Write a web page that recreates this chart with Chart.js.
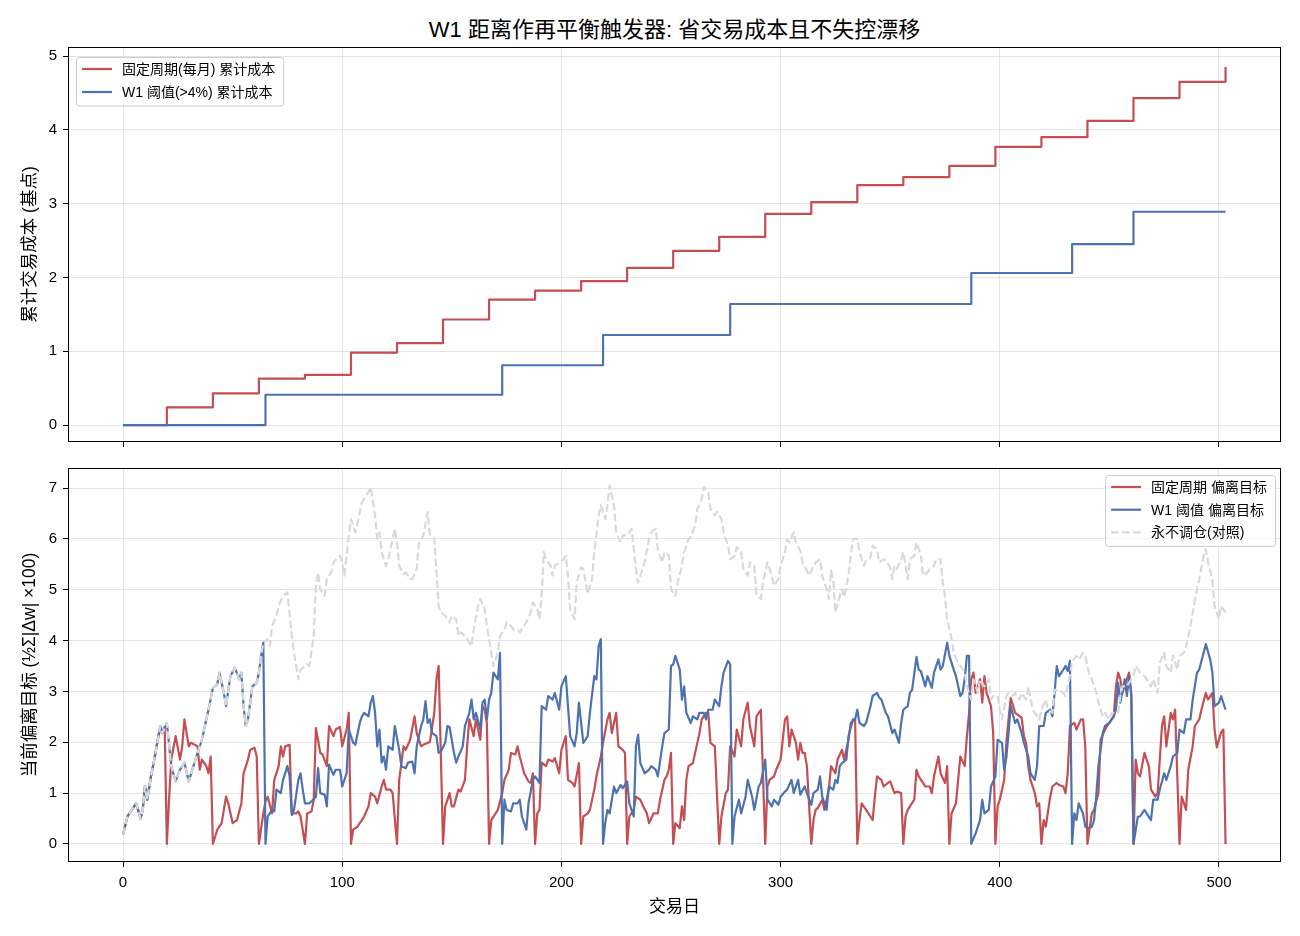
<!DOCTYPE html>
<html>
<head>
<meta charset="utf-8">
<script src="https://cdn.jsdelivr.net/npm/chart.js@4.4.1/dist/chart.umd.min.js"></script>
<style>
  body { margin: 0; background: #fff; }
  #wrap { position: relative; width: 1300px; height: 936px; background: #fff; }
  #title { position: absolute; left: 0; top: 16px; width: 1349px; text-align: center;
           font: 22px 'Liberation Sans', 'Noto Sans CJK SC', sans-serif; line-height: 27px; color: #000; }
  canvas { position: absolute; left: 0; }
</style>
</head>
<body>
<div id="wrap">
  <div id="title">W1 距离作再平衡触发器: 省交易成本且不失控漂移</div>
  <canvas id="costChart" width="1300" height="460" style="top:0"></canvas>
  <canvas id="driftChart" width="1300" height="483" style="top:453px"></canvas>
</div>
<script>
var FONT = "'Liberation Sans', 'Noto Sans CJK SC', sans-serif";
var RED = '#c44e52', BLUE = '#4c72b0', GRAY = '#d9d9d9', GRID = '#dedede';

// tick labels
var dayTicks = [0, 100, 200, 300, 400, 500];
var costTicks = [0, 1, 2, 3, 4, 5];
var driftTicks = [0, 1, 2, 3, 4, 5, 6, 7];

// cumulative cost (bp): [day, value] at each rebalance
var fixedCost = [[0,0],[20,0.24],[41,0.43],[62,0.63],[83,0.68],[104,0.98],[125,1.11],[146,1.43],[167,1.70],
  [188,1.82],[209,1.95],[230,2.13],[251,2.36],[272,2.55],[293,2.86],[314,3.02],[335,3.25],[356,3.36],
  [377,3.51],[398,3.77],[419,3.90],[440,4.12],[461,4.43],[482,4.65],[503,4.85]];
var w1Cost = [[0,0],[65,0.41],[173,0.81],[219,1.22],[277,1.64],[387,2.06],[433,2.45],[461,2.89],[503,2.89]];

// current drift from target: [day, value]
var fixedDrift = [[0,0.18],[2,0.54],[4,0.67],[6,0.8],[8,0.5],[9,0.67],[10,1.13],[11,0.87],[13,1.39],[14,1.6],
  [17,2.32],[18,2.18],[19,2.3],[20,0],[21,0.87],[22,1.66],[24,2.12],[26,1.66],[27,1.92],[28,2.45],[30,1.92],
  [31,1.99],[34,1.92],[35,1.46],[36,1.66],[38,1.53],[39,1.39],[40,1.72],[41,0],[43,0.28],[45,0.41],[47,0.93],
  [48,0.8],[50,0.41],[52,0.47],[54,0.8],[55,1.39],[57,1.66],[58,1.85],[60,1.89],[61,1.72],[62,0],[64,0.6],
  [65,0.84],[66,0.93],[68,0.6],[69,1.26],[71,1.53],[72,1.92],[73,1.72],[74,1.92],[76,1.95],[77,0.6],[79,0.6],
  [80,0.64],[81,0.54],[83,0],[84,0.6],[86,0.64],[87,0.87],[88,2.28],[90,1.79],[91,1.76],[93,1.53],[94,2.32],
  [96,2.12],[97,2.25],[99,2.3],[100,1.92],[102,2.25],[103,2.58],[104,0],[105,0.28],[107,0.34],[108,0.41],
  [109,0.47],[110,0.54],[112,0.74],[113,1.0],[115,0.93],[116,0.8],[118,1.13],[119,1.26],[120,1.07],[122,1.07],
  [123,1.0],[125,0],[126,1.26],[128,1.92],[129,1.85],[131,2.05],[133,2.51],[134,2.18],[136,1.92],[137,1.95],
  [139,1.99],[140,2.0],[142,2.58],[143,3.24],[144,3.5],[146,0],[147,0.74],[149,1.0],[150,0.74],[151,0.74],
  [153,1.07],[154,1.03],[156,1.26],[157,1.92],[158,2.45],[160,2.12],[161,2.45],[163,2.05],[164,2.71],[165,2.64],
  [166,2.38],[167,0],[168,0.47],[170,0.6],[171,0.67],[173,1.0],[174,1.26],[176,1.46],[177,1.79],[179,1.76],
  [180,1.92],[181,1.72],[183,1.39],[185,1.23],[186,1.2],[187,1.39],[188,0],[189,0.6],[190,0.67],[191,1.6],
  [193,1.53],[194,1.66],[196,1.62],[197,1.69],[199,1.39],[200,1.85],[202,2.12],[203,1.26],[205,1.2],[206,1.13],
  [208,1.59],[209,0],[210,0.54],[212,0.6],[213,0.67],[215,1.07],[216,1.33],[218,1.72],[219,1.99],[221,2.45],
  [222,2.58],[223,2.18],[225,2.58],[226,1.92],[228,1.85],[229,1.79],[230,0],[231,0.54],[233,0.67],[234,0.93],
  [236,0.87],[237,0.77],[239,0.6],[240,0.41],[242,0.6],[244,0.6],[245,0.87],[247,1.26],[248,1.33],[249,1.46],
  [250,1.79],[251,0],[252,0.41],[254,0.31],[255,0.74],[256,0.47],[257,1.26],[258,1.53],[260,1.59],[261,1.79],
  [263,2.18],[264,2.45],[266,2.58],[267,2.58],[268,1.99],[270,1.92],[272,0],[273,0.54],[275,1.0],[276,1.07],
  [277,1.92],[279,1.72],[280,2.25],[282,1.92],[283,2.45],[285,2.78],[286,2.32],[288,1.92],[289,2.51],[291,2.64],
  [293,0],[294,1.13],[295,1.26],[297,1.33],[298,1.46],[300,1.66],[302,2.45],[303,2.51],[304,1.92],[305,2.25],
  [307,1.99],[308,1.66],[309,1.99],[310,1.79],[311,1.79],[312,1.53],[314,0],[315,0.47],[316,0.67],[317,0.71],
  [319,0.87],[320,0.67],[322,1.07],[323,1.53],[325,1.39],[326,1.66],[328,1.85],[329,1.66],[331,2.05],[332,2.38],
  [334,2.45],[335,0],[336,0.47],[337,0.8],[339,0.67],[341,0.54],[342,0.47],[343,0.93],[344,1.33],[346,1.26],
  [347,1.13],[349,1.2],[350,1.23],[352,1.0],[353,1.03],[355,1.0],[356,0],[357,0.54],[358,0.67],[359,0.74],
  [361,0.87],[362,1.46],[363,1.33],[365,1.2],[366,1.13],[368,1.13],[369,1.0],[370,1.33],[372,1.72],[373,1.39],
  [375,1.2],[376,1.53],[377,0],[378,0.6],[380,0.8],[381,1.26],[382,1.72],[384,1.53],[385,2.12],[386,2.58],
  [387,3.24],[388,3.37],[389,2.97],[391,3.24],[392,2.78],[393,3.3],[394,2.97],[396,2.71],[397,2.18],[398,0],
  [399,0.74],[400,0.87],[402,1.26],[403,1.99],[404,2.45],[405,2.87],[407,2.58],[408,2.55],[410,2.48],[411,2.12],
  [412,1.99],[413,1.53],[414,1.26],[416,1.0],[417,0.74],[418,0.8],[419,0],[420,0.47],[421,0.34],[423,0.93],
  [424,1.13],[426,1.2],[427,1.16],[429,1.13],[430,1.0],[431,1.39],[432,2.32],[434,2.38],[435,2.25],[437,2.45],
  [438,2.45],[439,1.92],[440,0],[442,0.6],[443,0.67],[445,1.0],[446,2.05],[448,2.25],[449,2.32],[451,2.45],
  [452,2.51],[453,3.1],[454,3.37],[455,3.24],[456,2.97],[458,3.24],[459,3.37],[460,2.91],[461,0],[462,1.66],
  [463,1.39],[464,1.33],[466,1.79],[467,1.66],[468,1.53],[469,1.07],[471,0.93],[472,1.0],[474,2.32],[475,2.51],
  [476,1.92],[478,2.58],[479,2.45],[480,2.64],[482,0],[483,0.93],[485,0.67],[486,1.46],[488,1.92],[489,2.32],
  [491,2.45],[492,2.64],[494,2.97],[495,2.84],[497,2.97],[498,2.25],[499,1.9],[501,2.2],[502,2.25],[503,0]];

var w1Drift = [[0,0.18],[2,0.54],[4,0.67],[6,0.8],[8,0.5],[9,0.67],[10,1.13],[11,0.87],[13,1.39],[14,1.6],
  [17,2.32],[18,2.18],[20,2.38],[22,1.53],[24,1.23],[26,1.46],[28,1.6],[30,1.23],[33,1.66],[36,2.05],[38,2.45],
  [39,2.64],[41,3.07],[43,3.14],[44,3.37],[46,2.97],[47,2.71],[49,3.3],[51,3.47],[53,3.24],[54,3.37],[55,2.71],
  [56,2.32],[57,2.45],[59,3.1],[61,3.17],[62,3.37],[63,3.7],[64,3.96],[65,0],[66,0.54],[68,0.67],[69,0.64],
  [70,1.07],[72,1.0],[73,1.26],[75,1.53],[76,1.33],[77,0.57],[78,0.67],[80,1.26],[81,1.39],[82,1.07],[83,0.8],
  [85,0.8],[86,0.84],[88,0.93],[89,1.49],[90,1.0],[92,0.97],[93,0.74],[94,1.56],[96,1.36],[97,1.46],[99,1.46],
  [100,1.13],[102,1.39],[103,2.25],[105,1.99],[106,1.95],[108,2.38],[109,2.51],[110,2.58],[112,2.51],[113,2.78],
  [114,2.91],[115,2.58],[116,1.92],[117,2.25],[118,1.6],[119,1.72],[120,1.46],[121,1.92],[123,1.85],[124,2.32],
  [126,1.85],[127,1.53],[129,1.49],[130,1.6],[132,1.62],[133,1.39],[134,1.92],[136,2.32],[137,2.45],[138,2.81],
  [139,2.38],[140,2.45],[141,2.18],[143,2.12],[144,1.79],[145,1.82],[147,1.99],[148,2.32],[149,2.3],[151,1.79],
  [152,1.6],[153,1.72],[155,1.92],[156,2.32],[158,2.58],[159,2.84],[160,2.45],[161,2.58],[163,2.25],[164,2.78],
  [165,2.84],[166,2.45],[167,2.84],[168,2.97],[169,3.37],[170,3.3],[171,3.24],[172,3.76],[173,0],[174,0.87],
  [175,0.67],[177,0.64],[178,0.8],[180,0.8],[181,0.87],[182,0.54],[184,0.28],[185,0.8],[187,1.26],[188,1.33],
  [190,1.2],[191,2.71],[193,2.64],[194,2.91],[196,2.84],[197,2.97],[199,2.64],[200,3.1],[202,3.3],[203,2.71],
  [204,2.12],[206,1.92],[207,2.18],[208,2.78],[209,2.38],[210,1.99],[212,2.12],[213,2.58],[215,3.3],[216,3.24],
  [217,3.89],[218,4.03],[219,0],[220,0.41],[221,0.67],[222,0.6],[224,1.13],[225,1.0],[227,1.16],[228,1.1],
  [230,1.23],[231,0.8],[233,0.54],[234,1.92],[235,2.15],[236,1.59],[238,1.39],[240,1.46],[241,1.53],[243,1.46],
  [244,1.33],[246,1.92],[247,2.18],[249,2.25],[250,3.5],[251,3.53],[252,3.7],[254,3.43],[255,2.84],[256,3.1],
  [257,2.58],[259,2.38],[260,2.51],[262,2.45],[263,2.58],[265,2.58],[266,2.45],[267,2.64],[269,2.64],[270,2.84],
  [272,2.71],[273,3.1],[274,3.37],[276,3.6],[277,3.53],[278,0],[279,0.54],[281,0.87],[282,0.6],[284,0.93],
  [285,1.26],[287,0.93],[288,0.67],[290,1.13],[291,1.2],[293,1.66],[294,0.87],[296,0.74],[297,0.87],[299,0.77],
  [300,0.93],[302,1.03],[303,1.07],[305,1.26],[306,1.0],[308,1.26],[309,0.97],[311,1.13],[312,1.0],[314,0.77],
  [315,1.0],[317,1.07],[318,1.33],[319,0.93],[321,0.67],[322,1.13],[324,1.07],[325,1.26],[326,1.2],[327,1.53],
  [328,1.59],[330,1.66],[331,2.12],[333,2.45],[334,2.45],[335,2.64],[336,2.38],[338,2.32],[339,2.38],[341,2.71],
  [342,2.91],[344,2.97],[345,2.88],[346,2.84],[348,2.58],[349,2.51],[351,2.18],[352,2.25],[354,1.99],[355,2.38],
  [356,2.64],[358,2.71],[359,2.97],[360,3.03],[362,3.68],[363,3.43],[364,3.4],[366,3.1],[367,3.3],[369,3.07],
  [370,3.37],[372,3.63],[373,3.43],[374,3.5],[376,3.96],[377,3.7],[379,3.43],[380,3.3],[382,2.91],[383,2.97],
  [384,3.24],[385,3.7],[386,3.7],[387,0],[389,0.21],[391,0.47],[392,0.87],[393,0.6],[395,0.67],[396,1.13],
  [398,1.33],[399,2.05],[401,1.99],[402,1.46],[403,1.7],[404,2.18],[405,2.71],[407,2.38],[408,2.45],[410,2.18],
  [411,1.99],[413,1.72],[414,1.39],[416,1.26],[417,1.53],[418,2.32],[420,2.32],[421,2.58],[423,2.64],[424,2.51],
  [425,2.97],[426,3.5],[427,3.3],[429,3.43],[430,3.5],[431,3.4],[432,3.6],[433,0],[434,0.6],[435,0.47],[436,0.8],
  [438,0.6],[439,0.34],[441,0.31],[442,0.34],[443,0.47],[444,0.93],[445,1.53],[447,2.18],[448,2.32],[450,2.38],
  [452,2.51],[453,2.64],[454,3.17],[455,2.78],[457,3.24],[458,2.91],[459,3.3],[460,2.97],[461,0],[463,0.54],
  [464,0.54],[466,0.67],[467,0.6],[469,0.47],[470,0.87],[472,0.87],[473,1.07],[475,1.39],[476,1.26],[478,1.53],
  [479,1.72],[481,1.79],[482,2.25],[484,2.18],[485,2.45],[487,2.45],[488,2.84],[490,3.37],[491,3.43],[493,3.76],
  [494,3.93],[496,3.63],[497,3.37],[498,2.71],[500,2.78],[501,2.91],[503,2.64]];

var neverDrift = [[0,0.18],[2,0.54],[4,0.67],[6,0.8],[8,0.5],[9,0.67],[10,1.13],[11,0.87],[13,1.39],[14,1.6],
  [17,2.32],[18,2.18],[20,2.38],[22,1.53],[24,1.23],[26,1.46],[28,1.6],[30,1.23],[33,1.66],[36,2.05],[38,2.45],
  [39,2.64],[41,3.07],[43,3.14],[44,3.37],[46,2.97],[47,2.71],[49,3.3],[51,3.47],[53,3.24],[54,3.37],[55,2.71],
  [56,2.32],[57,2.45],[59,3.1],[61,3.17],[62,3.37],[63,3.7],[64,3.96],[66,4.03],[67,3.89],[68,4.29],[70,4.49],
  [71,4.68],[73,4.88],[75,4.95],[77,4.09],[78,3.76],[80,3.24],[81,3.43],[84,3.53],[85,3.5],[87,4.09],[88,5.08],
  [89,5.34],[90,5.01],[92,4.88],[93,5.21],[95,5.34],[96,5.54],[99,5.67],[100,5.54],[101,5.28],[103,6.07],
  [104,6.39],[106,6.13],[107,6.33],[109,6.72],[110,6.79],[112,6.92],[113,7.02],[115,6.46],[116,6.0],[117,6.13],
  [118,5.74],[120,5.47],[121,5.6],[122,5.8],[124,6.2],[125,5.93],[126,5.47],[128,5.31],[129,5.34],[131,5.21],
  [132,5.21],[134,5.41],[135,5.93],[137,6.07],[139,6.53],[140,6.07],[142,6.0],[143,5.34],[144,4.68],[145,4.55],
  [147,4.49],[149,4.36],[150,4.49],[152,4.42],[153,4.09],[154,4.16],[156,4.09],[157,4.03],[159,3.89],[160,4.22],
  [162,4.68],[163,4.82],[165,4.62],[166,4.29],[167,4.03],[168,3.76],[169,3.5],[171,3.76],[172,4.09],[174,4.22],
  [175,4.36],[177,4.29],[178,4.22],[180,4.22],[181,4.16],[183,4.29],[184,4.36],[186,4.55],[187,4.75],[189,4.62],
  [190,4.42],[191,4.88],[192,5.74],[193,5.6],[195,5.47],[196,5.28],[197,5.47],[199,5.54],[201,5.6],[202,5.67],
  [203,5.28],[204,4.62],[206,4.42],[207,5.14],[209,5.44],[210,5.41],[212,4.92],[214,5.21],[215,5.74],[217,6.46],
  [218,6.66],[220,6.39],[221,6.66],[222,7.05],[224,6.66],[225,6.13],[227,5.93],[228,6.07],[230,6.07],[232,6.2],
  [234,5.41],[235,5.14],[237,5.41],[238,5.54],[240,6.0],[241,6.13],[243,6.2],[244,5.8],[246,5.54],[247,5.74],
  [249,5.67],[250,5.01],[252,4.88],[253,5.14],[255,5.47],[256,5.74],[258,6.0],[259,6.04],[261,6.26],[262,6.59],
  [264,6.79],[265,7.02],[267,6.92],[268,6.59],[270,6.46],[271,6.53],[273,6.39],[274,6.13],[276,5.87],[277,5.6],
  [279,5.67],[280,5.84],[282,5.74],[283,5.41],[285,5.28],[286,5.54],[288,5.47],[289,4.91],[291,4.82],[292,5.14],
  [294,5.54],[295,5.41],[297,5.08],[299,5.21],[300,5.47],[302,5.74],[303,6.0],[304,5.93],[306,6.13],[307,5.93],
  [309,5.77],[310,5.54],[312,5.38],[313,5.28],[315,5.47],[316,5.54],[318,5.6],[319,5.28],[321,5.01],[322,4.82],
  [323,5.38],[324,5.21],[325,4.55],[327,4.88],[328,5.01],[329,4.85],[331,5.28],[332,5.67],[333,6.0],[335,6.0],
  [336,5.74],[338,5.47],[339,5.57],[341,5.64],[342,5.87],[344,5.8],[345,5.54],[347,5.6],[348,5.57],[350,5.44],
  [351,5.21],[352,5.47],[353,5.41],[355,5.6],[356,5.74],[358,5.21],[359,5.6],[361,5.67],[362,5.93],[364,5.67],
  [365,5.28],[367,5.34],[368,5.41],[370,5.47],[371,5.6],[373,5.6],[374,5.14],[375,4.88],[376,4.42],[378,4.03],
  [379,3.76],[381,3.55],[382,3.5],[384,3.37],[385,3.1],[387,2.84],[388,3.24],[390,2.97],[391,3.24],[393,3.1],
  [395,3.24],[396,2.84],[397,2.91],[399,2.91],[400,2.64],[401,2.45],[403,2.91],[404,2.97],[406,2.91],[407,2.97],
  [409,2.84],[410,2.97],[412,2.84],[413,3.1],[415,2.64],[416,2.58],[418,2.45],[419,2.64],[421,2.84],[422,2.64],
  [424,2.58],[425,3.03],[427,3.03],[429,2.97],[430,2.91],[432,3.3],[433,3.6],[435,3.7],[436,3.63],[438,3.76],
  [439,3.7],[441,3.3],[442,3.24],[444,2.97],[445,2.78],[447,2.51],[448,2.58],[450,2.45],[451,2.58],[454,2.58],
  [455,2.91],[456,3.1],[458,3.1],[460,3.24],[461,3.3],[462,3.5],[464,3.37],[466,3.3],[467,3.24],[469,3.1],
  [470,3.24],[472,2.97],[473,3.57],[475,3.76],[476,3.5],[478,3.37],[479,3.7],[481,3.43],[482,3.7],[484,3.76],
  [485,3.89],[487,4.29],[488,4.55],[490,5.01],[491,5.21],[493,5.67],[494,5.8],[495,5.54],[497,5.21],[498,4.68],
  [500,4.42],[501,4.68],[503,4.55]];

Chart.defaults.font.family = FONT;
Chart.defaults.color = '#000';

function toXY(pairs) {
    return pairs.map(function (p) { return {x: p[0], y: p[1]}; });
}

// axes frame + matplotlib-like legend box inside the plot
var frameLegend = {
    id: 'frameLegend',
    afterDraw: function (chart, args, opts) {
        var ctx = chart.ctx, a = chart.chartArea;
        ctx.save();
        ctx.strokeStyle = '#000';
        ctx.lineWidth = 1;
        ctx.strokeRect(Math.round(a.left) + 0.5, Math.round(a.top) + 0.5,
            Math.round(a.right - a.left) - 1, Math.round(a.bottom - a.top) - 1);

        var items = opts.items;
        ctx.font = '14px ' + FONT;
        var tw = 0;
        items.forEach(function (it) { tw = Math.max(tw, ctx.measureText(it.label).width); });
        var w = 46 + tw + 8;
        var h = 12 + (items.length - 1) * opts.rowH + 13.5;
        var x = opts.side === 'left' ? a.left + 8 : a.right - 6 - w;
        var y = a.top + opts.top;
        ctx.beginPath();
        ctx.roundRect(x + 0.5, y + 0.5, w, h, 3);
        ctx.fillStyle = 'rgba(255,255,255,0.8)';
        ctx.fill();
        ctx.strokeStyle = '#cccccc';
        ctx.stroke();
        items.forEach(function (it, i) {
            var yy = y + 12 + i * opts.rowH;
            ctx.beginPath();
            ctx.setLineDash(it.dash || []);
            ctx.strokeStyle = it.color;
            ctx.lineWidth = 2.2;
            ctx.moveTo(x + 6, yy);
            ctx.lineTo(x + 36, yy);
            ctx.stroke();
            ctx.setLineDash([]);
            ctx.fillStyle = '#000';
            ctx.textBaseline = 'middle';
            ctx.fillText(it.label, x + 46, yy + 1);
        });
        ctx.restore();
    }
};

function xScale(showLabels, height, title) {
    return {
        type: 'linear', min: -25.1, max: 528.3,
        afterBuildTicks: function (s) { s.ticks = dayTicks.map(function (v) { return {value: v}; }); },
        afterFit: function (s) { s.height = height; },
        grid: { color: GRID, lineWidth: 0.8, tickLength: 5, tickColor: '#000', tickWidth: 1 },
        border: { display: false },
        ticks: { display: showLabels, font: { size: 15 }, padding: 7, maxRotation: 0, autoSkip: false,
                 callback: function (v) { return String(v); } },
        title: { display: !!title, text: title, font: { size: 17 }, padding: { top: 0, bottom: 18 } }
    };
}

function yScale(min, max, ticks, title) {
    return {
        min: min, max: max,
        afterBuildTicks: function (s) { s.ticks = ticks.map(function (v) { return {value: v}; }); },
        afterFit: function (s) { s.width = 68; },
        grid: { color: GRID, lineWidth: 0.8, tickLength: 5, tickColor: '#000', tickWidth: 1 },
        border: { display: false },
        ticks: { font: { size: 15 }, padding: 6 },
        title: { display: true, text: title, font: { size: 17.5 }, padding: { top: 20, bottom: 0 } }
    };
}

function line(label, pairs, color, extra) {
    var ds = {
        label: label, data: toXY(pairs), borderColor: color, backgroundColor: color,
        borderWidth: 2.2, pointRadius: 0, fill: false, tension: 0, borderJoinStyle: 'round'
    };
    for (var k in extra) ds[k] = extra[k];
    return ds;
}

var baseOptions = {
    responsive: false, animation: false, events: [],
    plugins: { legend: { display: false }, tooltip: { enabled: false } }
};

new Chart(document.getElementById('costChart').getContext('2d'), {
    type: 'line',
    data: {
        datasets: [
            line('固定周期(每月) 累计成本', fixedCost, RED, { stepped: true, order: 2 }),
            line('W1 阈值(>4%) 累计成本', w1Cost, BLUE, { stepped: true, order: 1 })
        ]
    },
    options: Object.assign({}, baseOptions, {
        layout: { padding: { top: 47, right: 19, bottom: 0, left: 0 } },
        scales: { x: xScale(false, 18, ''), y: yScale(-0.23, 5.122, costTicks, '累计交易成本 (基点)') },
        plugins: Object.assign({}, baseOptions.plugins, {
            frameLegend: { side: 'left', top: 10, rowH: 23, items: [
                { label: '固定周期(每月) 累计成本', color: RED },
                { label: 'W1 阈值(>4%) 累计成本', color: BLUE }
            ] }
        })
    }),
    plugins: [frameLegend]
});

new Chart(document.getElementById('driftChart').getContext('2d'), {
    type: 'line',
    data: {
        datasets: [
            line('固定周期 偏离目标', fixedDrift, RED, { order: 2 }),
            line('W1 阈值 偏离目标', w1Drift, BLUE, { order: 1 }),
            line('永不调仓(对照)', neverDrift, GRAY, { order: 0, borderDash: [7.7, 3.3] })
        ]
    },
    options: Object.assign({}, baseOptions, {
        layout: { padding: { top: 9, right: 19, bottom: 0, left: 0 } },
        scales: { x: xScale(true, 74, '交易日'), y: yScale(-0.355, 7.395, driftTicks, '当前偏离目标 (½Σ|Δw| ×100)') },
        plugins: Object.assign({}, baseOptions.plugins, {
            frameLegend: { side: 'right', top: 7, rowH: 22.7, items: [
                { label: '固定周期 偏离目标', color: RED },
                { label: 'W1 阈值 偏离目标', color: BLUE },
                { label: '永不调仓(对照)', color: GRAY, dash: [7.7, 3.3] }
            ] }
        })
    }),
    plugins: [frameLegend]
});
</script>
</body>
</html>
